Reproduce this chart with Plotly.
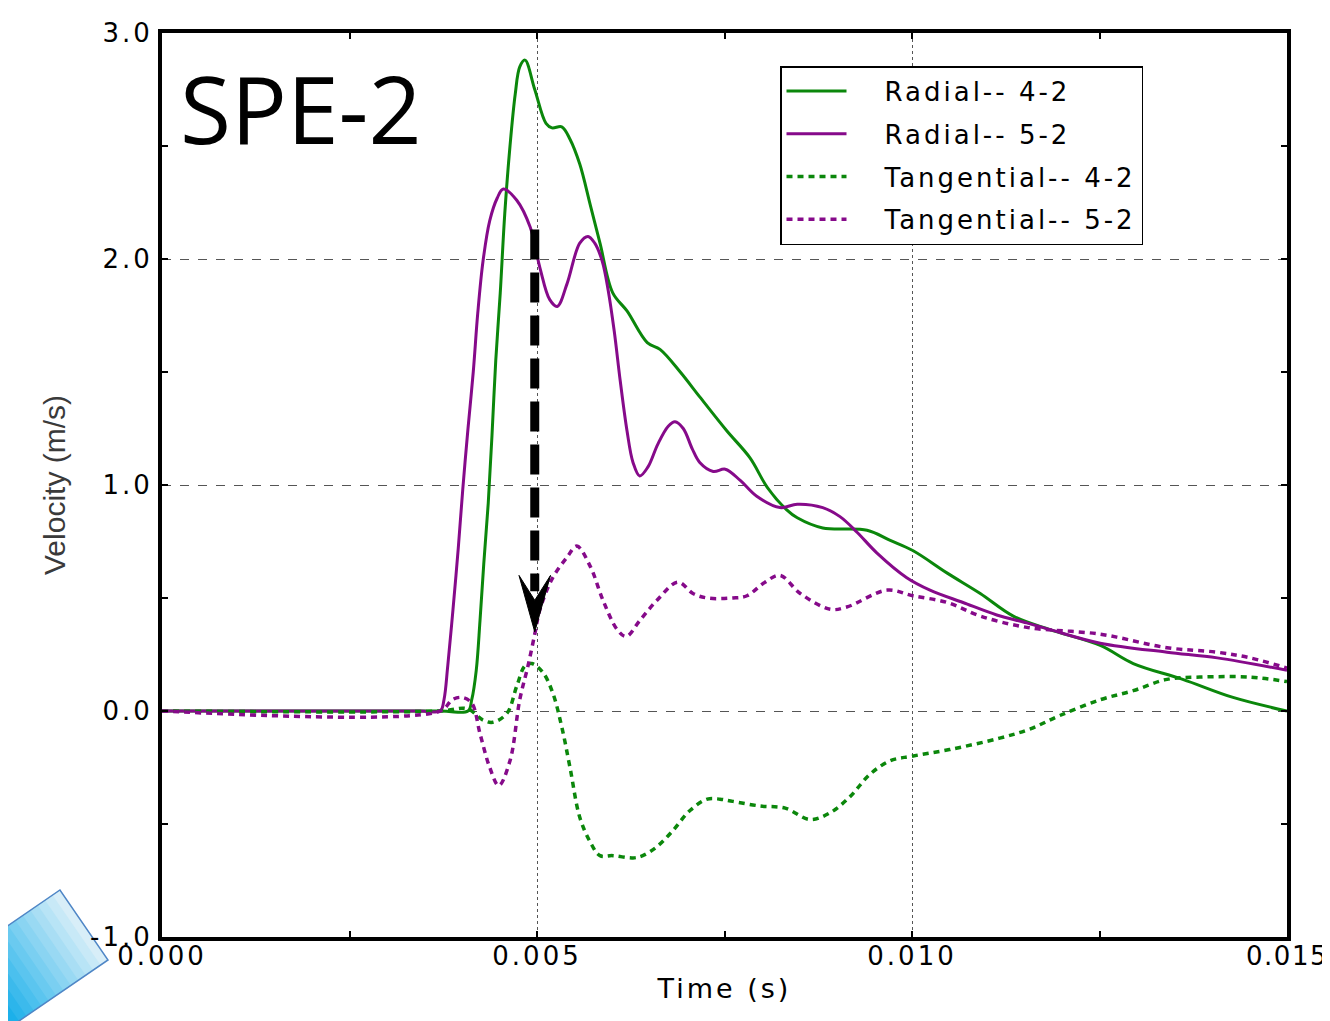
import numpy as np
import plotly.graph_objects as go

# Data (time in ms, velocity in m/s)
t_rad42 = [0, 3.71, 4.08, 4.13, 4.19, 4.24, 4.29, 4.35, 4.40, 4.45, 4.51, 4.57, 4.64, 4.71,
           4.77, 4.84, 4.97, 5.12, 5.20, 5.33, 5.44, 5.57, 5.71, 5.84, 6.01, 6.20, 6.47,
           6.64, 6.91, 7.17, 7.53, 7.84, 8.07, 8.33, 8.47, 8.81, 9.40, 9.71, 10.01, 10.47,
           10.91, 11.35, 11.84, 12.51, 12.95, 13.61, 14.28, 15.0]
v_rad42 = [0, 0, 0, 0.05, 0.18, 0.40, 0.65, 0.92, 1.22, 1.55, 1.85, 2.20, 2.50, 2.73,
           2.85, 2.88, 2.75, 2.60, 2.58, 2.585, 2.53, 2.42, 2.24, 2.07, 1.85, 1.77, 1.63,
           1.60, 1.50, 1.39, 1.24, 1.12, 0.99, 0.89, 0.855, 0.81, 0.80, 0.755, 0.71, 0.61,
           0.52, 0.42, 0.36, 0.29, 0.21, 0.14, 0.06, 0.0]

t_rad52 = [0, 3.44, 3.71, 3.76, 3.81, 3.88, 3.95, 4.01, 4.08, 4.15, 4.21, 4.28, 4.37,
           4.47, 4.55, 4.73, 4.91, 5.04, 5.17, 5.27, 5.40, 5.57, 5.68, 5.77, 5.87, 5.95,
           6.03, 6.11, 6.20, 6.28, 6.37, 6.48, 6.61, 6.75, 6.84, 6.95, 7.07, 7.17, 7.35,
           7.51, 7.71, 7.93, 8.24, 8.47, 8.81, 9.04, 9.27, 9.53, 9.93, 10.24, 10.68, 11.13,
           11.53, 11.84, 12.51, 13.40, 14.07, 15.0]
v_rad52 = [0, 0, 0, 0.05, 0.20, 0.45, 0.72, 0.98, 1.25, 1.50, 1.76, 1.99, 2.17,
           2.27, 2.31, 2.26, 2.14, 1.96, 1.82, 1.79, 1.89, 2.07, 2.10, 2.07, 1.99, 1.86,
           1.68, 1.46, 1.24, 1.10, 1.04, 1.08, 1.18, 1.26, 1.28, 1.25, 1.16, 1.10, 1.06,
           1.07, 1.02, 0.95, 0.90, 0.915, 0.90, 0.86, 0.79, 0.70, 0.59, 0.535, 0.48, 0.425,
           0.39, 0.36, 0.30, 0.26, 0.235, 0.18]

t_tan42 = [0, 3.71, 4.07, 4.28, 4.41, 4.60, 4.73, 4.84, 4.93, 5.08, 5.21, 5.33, 5.44,
           5.57, 5.71, 5.84, 6.01, 6.28, 6.41, 6.60, 6.81, 7.04, 7.27, 7.44, 7.61, 7.97,
           8.31, 8.64, 8.91, 9.17, 9.44, 9.71, 10.0, 10.51, 11.17, 11.57, 11.97, 12.51,
           12.95, 13.40, 13.84, 14.51, 15.0]
v_tan42 = [0, 0, 0.01, -0.04, -0.05, -0.01, 0.11, 0.20, 0.21, 0.17, 0.08, -0.07, -0.25,
           -0.47, -0.58, -0.64, -0.64, -0.65, -0.64, -0.60, -0.53, -0.44, -0.39, -0.39,
           -0.40, -0.42, -0.43, -0.48, -0.45, -0.38, -0.28, -0.22, -0.20, -0.17, -0.12,
           -0.08, -0.02, 0.05, 0.09, 0.14, 0.15, 0.15, 0.13]

t_tan52 = [0, 3.71, 3.87, 4.00, 4.13, 4.24, 4.37, 4.49, 4.64, 4.77, 4.88, 4.97, 5.04,
           5.21, 5.40, 5.53, 5.71, 5.88, 6.07, 6.19, 6.37, 6.60, 6.88, 7.08, 7.27, 7.61,
           7.80, 8.04, 8.24, 8.51, 8.91, 9.13, 9.67, 10.01, 10.47, 10.91, 11.53, 12.51,
           13.40, 14.07, 14.51, 15.0]
v_tan52 = [0, 0, 0.05, 0.06, 0.035, -0.10, -0.25, -0.33, -0.22, 0.05, 0.20, 0.34, 0.45,
           0.59, 0.68, 0.73, 0.64, 0.49, 0.36, 0.33, 0.40, 0.49, 0.57, 0.52, 0.50, 0.50,
           0.51, 0.57, 0.60, 0.52, 0.45, 0.46, 0.535, 0.51, 0.48, 0.42, 0.37, 0.34,
           0.28, 0.26, 0.235, 0.19]

x_ticks = [0, 0.005, 0.010, 0.015]
x_tick_text = ['0.000', '0.005', '0.010', '0.015']
y_ticks = [-1, 0, 1, 2, 3]
y_tick_text = ['-1.0', '0.0', '1.0', '2.0', '3.0']

GREEN = '#0b870b'
PURPLE = '#860a8a'
NBSP = '\u00a0'


def spaced(text, px=3):
    return f'<span style="letter-spacing:{px}px">{text}</span>'


series = [
    ('Radial-- 4-2', t_rad42, v_rad42, GREEN, 'solid', 3),
    ('Radial-- 5-2', t_rad52, v_rad52, PURPLE, 'solid', 3),
    ('Tangential-- 4-2', t_tan42, v_tan42, GREEN, '6px,5px', 3.5),
    ('Tangential-- 5-2', t_tan52, v_tan52, PURPLE, '6px,5px', 3.5),
]

fig = go.Figure()
for name, t, v, color, dash, width in series:
    assert len(t) == len(v), name
    fig.add_trace(go.Scatter(
        x=np.array(t) / 1000.0,
        y=v,
        mode='lines',
        name=NBSP * 4 + spaced(name),
        legendgroup=name,
        line=dict(color=color, dash=dash, width=width, shape='spline', smoothing=1.0),
        hoverinfo='skip',
    ))

# page pixel -> paper helpers (page has an 8px body margin)
L, R, T, B = 162, 1287, 33, 937


def paper(px, py):
    return (px - L) / (R - L), (B - py) / (B - T)


# rotated blue slide tile in the bottom-left corner (banded gradient)
A = np.array([60.0, 890.0])
Bp = np.array([108.0, 960.0])
perp = np.array([-0.824, 0.565])
c0 = np.array([0xe0, 0xf1, 0xf9])
c1 = np.array([0x15, 0xae, 0xea])
n_bands, step = 16, 9
for i in range(n_bands):
    f = min(1.0, (i + 0.5) / 13)
    col = c0 + (c1 - c0) * f
    s0, s1 = i * step, (i + 1) * step + 1
    pts = [A + s0 * perp, Bp + s0 * perp, Bp + s1 * perp, A + s1 * perp]
    pp = [paper(*p) for p in pts]
    path = 'M ' + ' L '.join(f'{x:.4f},{y:.4f}' for x, y in pp) + ' Z'
    fig.add_shape(type='path', path=path, xref='paper', yref='paper',
                  fillcolor='rgb(%d,%d,%d)' % tuple(col.astype(int)),
                  line=dict(width=0), layer='below')
edge = [A + 160 * perp, A, Bp, Bp + 160 * perp]
pp = [paper(*p) for p in edge]
fig.add_shape(type='path', xref='paper', yref='paper', layer='below',
              path='M ' + ' L '.join(f'{x:.4f},{y:.4f}' for x, y in pp),
              line=dict(color='#4f86c6', width=1.5))

# dashed black arrow
fig.add_shape(type='line', xref='x', yref='y', x0=0.00497, x1=0.00497, y0=2.13, y1=0.53,
              line=dict(color='black', width=9, dash='30px,13px'), layer='above')
fig.add_shape(type='path', xref='x', yref='y', layer='above',
              path='M 0.00476,0.60 L 0.00497,0.35 L 0.00518,0.60 L 0.00497,0.49 Z',
              fillcolor='black', line=dict(color='black', width=1))

fig.add_annotation(
    text='SPE-2', xref='paper', yref='paper', x=paper(178, 108)[0], y=paper(178, 108)[1],
    xanchor='left', yanchor='middle', showarrow=False,
    font=dict(family='Open Sans', size=93, color='black'),
)

axis_common = dict(
    showline=True, linecolor='black', linewidth=4, mirror='allticks',
    ticks='inside', ticklen=6, tickwidth=1.5, tickcolor='black',
    showgrid=True, gridcolor='#555555', gridwidth=1.2, zeroline=False,
    tickfont=dict(family='DejaVu Sans', size=26, color='black'), automargin=False,
    ticklabeloverflow='allow',
)

x_labels = [spaced(s) for s in x_tick_text[:-1]] + [spaced(x_tick_text[-1], 1.5)]
fig.update_xaxes(
    **axis_common,
    range=[0, 0.015], tickvals=x_ticks, ticktext=x_labels,
    griddash='dot', ticklabelstandoff=-7,
    minor=dict(tickvals=[0.0025, 0.0075, 0.0125], ticks='inside', ticklen=6,
               tickcolor='black', showgrid=False),
    title=dict(text=spaced('Time (s)'),
               font=dict(family='DejaVu Sans', size=27, color='black'), standoff=10),
)
fig.update_yaxes(
    **axis_common,
    range=[-1, 3], tickvals=y_ticks, ticktext=[spaced(s) for s in y_tick_text],
    griddash='dash',
    minor=dict(tickvals=[-0.5, 0.5, 1.5, 2.5], ticks='inside', ticklen=6,
               tickcolor='black', showgrid=False),
    title=dict(text='Velocity (m/s)', font=dict(family='Liberation Sans', size=30,
                                                color='#3a3a3a'), standoff=17),
)

W, H = 1322, 1013
fig.update_layout(
    width=W, height=H,
    margin=dict(l=L - 8, r=W + 8 - R, t=T - 8, b=H + 8 - B),
    plot_bgcolor='white', paper_bgcolor='white',
    showlegend=True,
    legend=dict(
        x=paper(780, 66)[0], y=paper(780, 66)[1], xanchor='left', yanchor='top',
        bgcolor='white', bordercolor='black', borderwidth=1.5,
        font=dict(family='DejaVu Sans', size=26, color='black'),
        itemwidth=60, traceorder='grouped', tracegroupgap=6,
    ),
)

fig.write_html('out.html')
